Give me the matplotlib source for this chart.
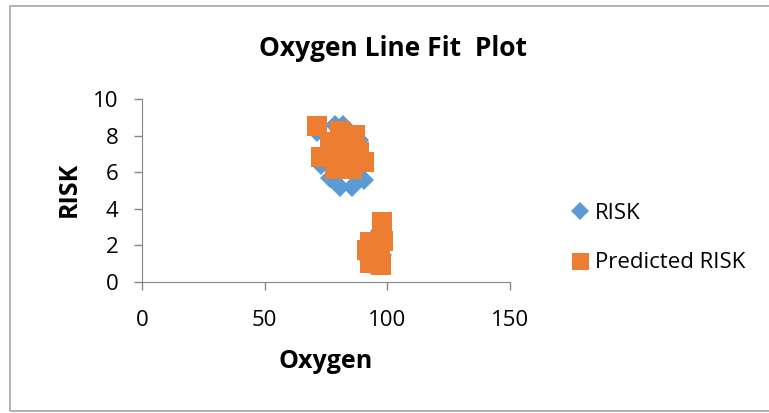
import matplotlib
matplotlib.use("Agg")
import matplotlib.pyplot as plt
from matplotlib.patches import Rectangle

plt.rcParams['font.family'] = ['Open Sans', 'DejaVu Sans']

# Excel line fit plot: observed and predicted RISK against Oxygen
oxygen = [71.3, 72.8, 76.6, 78.5, 80.7, 82.0, 85.6, 86.8, 88.5, 90.5,
          83.5, 79.5,
          91.7, 92.9, 93.0, 97.0, 97.4, 97.8, 98.2]
risk = [8.2, 6.4, 5.7, 8.58, 5.2, 8.58, 5.2, 7.3, 7.76, 5.6,
        7.0, 6.6,
        1.3, 2.0, 1.0, 2.8, 1.0, 1.5, 2.4]
predicted_risk = [8.52, 6.83, 7.65, 6.17, 8.25, 7.5, 6.17, 8.03, 7.1, 6.56,
                  6.8, 7.0,
                  1.75, 1.04, 2.19, 1.75, 0.93, 3.28, 2.24]

blue = '#5b9bd5'
orange = '#ed7d31'
gray = '#868686'

fig = plt.figure(figsize=(7.69, 4.13), dpi=100)
fig.patches.append(Rectangle((10 / 769, 2 / 413), 1.0, 405 / 413, transform=fig.transFigure,
                             fill=False, edgecolor='#a6a6a6', linewidth=1.2))

ax = fig.add_axes([142 / 769, 131 / 413, 368 / 769, 183 / 413])
ax.plot(oxygen, risk, linestyle='none', marker='D', markersize=10.2,
        color=blue, markeredgewidth=0, label='RISK')
ax.plot(oxygen, predicted_risk, linestyle='none', marker='s', markersize=14.4,
        color=orange, markeredgewidth=0, label='Predicted RISK')

ax.set_xlim(0, 150)
ax.set_ylim(0, 10)
ax.set_xticks([0, 50, 100, 150])
ax.set_yticks([0, 2, 4, 6, 8, 10])
ax.tick_params(labelsize=16, colors='black', length=6, width=1)
ax.tick_params(axis='both', color=gray)
ax.tick_params(axis='x', pad=14)
ax.tick_params(axis='y', pad=11)
for s in ['top', 'right']:
    ax.spines[s].set_visible(False)
for s in ['left', 'bottom']:
    ax.spines[s].set_color(gray)
for ln in ax.lines:
    ln.set_clip_on(False)

fig.text(393 / 769, 1 - 48 / 413, 'Oxygen Line Fit  Plot', ha='center', va='center',
         fontsize=19, fontweight='bold')
fig.text(326 / 769, 1 - 361 / 413, 'Oxygen', ha='center', va='center',
         fontsize=18, fontweight='bold')
fig.text(69 / 769, 1 - 189 / 413, 'RISK', ha='center', va='center', rotation=90,
         fontsize=18, fontweight='bold')

leg = ax.legend(loc='center left', bbox_to_anchor=(569 / 769, 1 - 238 / 413),
                bbox_transform=fig.transFigure, frameon=False, fontsize=16,
                handletextpad=0.15, labelspacing=1.3, handlelength=1.0,
                markerscale=0.85, borderaxespad=0, borderpad=0)

fig.savefig('out.png', dpi=100)
